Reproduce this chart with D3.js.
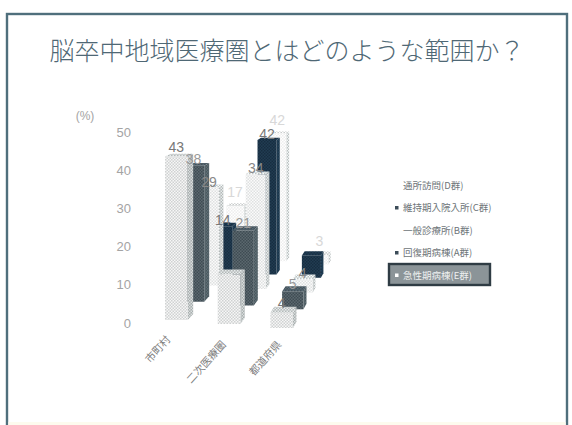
<!DOCTYPE html>
<html lang="ja">
<head>
<meta charset="utf-8">
<script src="https://cdn.jsdelivr.net/npm/d3@7"></script>
<style>
html,body{margin:0;padding:0;background:#fff}
svg{display:block;font-family:"Noto Sans CJK JP","Noto Sans",sans-serif}
</style>
</head>
<body>
<svg id="chart" width="572" height="425"></svg>
<script>
const titleText = "脳卒中地域医療圏とはどのような範囲か？";
const categories = ["市町村", "二次医療圏", "都道府県"];
const tickValues = [0, 10, 20, 30, 40, 50];

// Rows run from the front of the floor to the back.
const rowKeys = ["E", "A", "B", "C", "D"];
const valuesE = [43, 13, 4];
const valuesA = [38, 21, 5];
const valuesB = [29, 34, 4];
const valuesC = [14, 42, 7];
const valuesD = [17, 42, 3];

// Value labels that stay readable; the rest sit behind nearer bars.
const labelsE = [43, null, 4];
const labelsA = [38, 21, 5];
const labelsB = [29, 34, 4];
const labelsC = [14, 42, null];
const labelsD = [17, 42, 3];

const legendNames = ["通所訪問(D群)", "維持期入院入所(C群)", "一般診療所(B群)", "回復期病棟(A群)", "急性期病棟(E群)"];
const legendBullet = [false, true, false, true, true];

const rowValues = [valuesE, valuesA, valuesB, valuesC, valuesD];
const rowLabels = [labelsE, labelsA, labelsB, labelsC, labelsD];
const rowTheme = {
  E: {base: "#f7f7f7", dot: "#cfd2d2", side: "#a9aeae", top: "#b4b8b8", ink: "#777", lift: 5},
  A: {base: "#5b686e", dot: "#3f4c53", side: "#4a575d", top: "#44525a", ink: "#999", lift: 2},
  B: {base: "#fbfbfb", dot: "#dfe1e1", side: "#b5b9b9", top: "#c0c4c4", ink: "#888", lift: 1},
  C: {base: "#213c52", dot: "#172d40", side: "#1b3448", top: "#182f42", ink: "#777", lift: 1},
  D: {base: "#ffffff", dot: "#eeeeee", side: "#bcc0c0", top: "#c8cbcb", ink: "#d8d8d8", lift: 9}
};

const svg = d3.select("#chart");
const defs = svg.append("defs");

// Halftone fills for the printed look of the bars.
function halftone(id, base, dot) {
  const p = defs.append("pattern").attr("id", id)
    .attr("width", 3).attr("height", 3).attr("patternUnits", "userSpaceOnUse");
  p.append("rect").attr("width", 3).attr("height", 3).attr("fill", base);
  p.append("rect").attr("x", 0).attr("y", 0).attr("width", 1.5).attr("height", 1.5).attr("fill", dot);
  p.append("rect").attr("x", 1.5).attr("y", 1.5).attr("width", 1.5).attr("height", 1.5).attr("fill", dot);
}
rowKeys.forEach(k => {
  const t = rowTheme[k];
  halftone("front" + k, t.base, t.dot);
  halftone("side" + k, t.side, d3.color(t.side).brighter(0.7));
  halftone("top" + k, t.top, d3.color(t.top).brighter(0.7));
});

// Slide frame and the pale strip along its lower edge.
svg.append("rect").attr("width", 572).attr("height", 425).attr("fill", "#fff");
svg.append("rect").attr("x", 7).attr("y", 14).attr("width", 560).attr("height", 420)
  .attr("fill", "#fff").attr("stroke", "#4f6f7c").attr("stroke-width", 2.4);
svg.append("rect").attr("x", 8.5).attr("y", 422).attr("width", 557).attr("height", 3).attr("fill", "#fdfbee");

svg.append("text").attr("x", 287).attr("y", 60).attr("text-anchor", "middle")
  .attr("font-size", 25).attr("font-weight", 300).attr("fill", "#4f6875").text(titleText);

// World scales on the floor of the chart, at the front plane.
const xBand = d3.scaleBand().domain(categories).range([165, 293]).paddingInner(0.57).paddingOuter(0).align(0);
const floorY = d3.scalePoint().domain(categories).range([320, 328]);
const depth = d3.scalePoint().domain(rowKeys).range([0, 1]);
const height = d3.scaleLinear().domain([0, 50]).range([0, 190]);
const barDepth = 0.08;

// Perspective projection toward the vanishing point.
const vanish = {x: 470, y: 10};
const shrink = z => 1 / (1 + 0.25 * z);
const project = (x, y, z) => {
  const s = shrink(z);
  return [vanish.x + (x - vanish.x) * s, vanish.y + (y - vanish.y) * s];
};
const poly = pts => "M" + pts.map(p => p.join(",")).join("L") + "Z";

const plot = svg.append("g");
const labelLayer = svg.append("g");

// Paint rows from back to front so nearer bars cover farther ones.
d3.range(rowKeys.length - 1, -1, -1).forEach(r => {
  const key = rowKeys[r];
  const z0 = depth(key), z1 = z0 + barDepth;
  const row = plot.append("g").attr("class", "row-" + key);
  categories.forEach((cat, c) => {
    const x0 = xBand(cat), x1 = x0 + xBand.bandwidth();
    const yb = floorY(cat), yt = yb - height(rowValues[r][c]);
    const bar = row.append("g");
    bar.append("path").attr("fill", `url(#side${key})`)
      .attr("d", poly([project(x1, yb, z0), project(x1, yt, z0), project(x1, yt, z1), project(x1, yb, z1)]));
    bar.append("path").attr("fill", `url(#top${key})`)
      .attr("d", poly([project(x0, yt, z0), project(x1, yt, z0), project(x1, yt, z1), project(x0, yt, z1)]));
    bar.append("path").attr("fill", `url(#front${key})`)
      .attr("d", poly([project(x0, yt, z0), project(x1, yt, z0), project(x1, yb, z0), project(x0, yb, z0)]));
    const label = rowLabels[r][c];
    if (label !== null) {
      const at = project((x0 + x1) / 2, yt, z0);
      labelLayer.append("text").attr("x", at[0]).attr("y", at[1] - rowTheme[key].lift).attr("text-anchor", "middle")
        .attr("font-size", 14).attr("font-family", "Liberation Sans, sans-serif")
        .attr("fill", rowTheme[key].ink).text(label);
    }
  });
});

// Value axis labels.
const yTicks = d3.scaleLinear().domain([0, 50]).range([323, 132]);
svg.append("g").selectAll("text").data(tickValues).join("text")
  .attr("x", 131).attr("y", d => yTicks(d) + 4.5).attr("text-anchor", "end")
  .attr("font-size", 13).attr("font-family", "Liberation Sans, sans-serif")
  .attr("fill", "#a4a4a4").text(d => d);
svg.append("text").attr("x", 85).attr("y", 120).attr("text-anchor", "middle")
  .attr("font-size", 12).attr("font-family", "Liberation Sans, sans-serif")
  .attr("fill", "#a4a4a4").text("(%)");

// Slanted category labels under each column group.
const catAnchor = d3.scalePoint().domain(categories).range([171, 282]);
svg.append("g").selectAll("text").data(categories).join("text")
  .attr("text-anchor", "end").attr("font-size", 10.5).attr("fill", "#7d7d7d")
  .attr("transform", d => `translate(${catAnchor(d)},${d === categories[0] ? 340 : 345}) rotate(-48)`)
  .text(d => d);

// Legend, with the front row picked out in a dark box.
const legendY = d3.scalePoint().domain(legendNames).range([185, 275]);
const last = legendNames[legendNames.length - 1];
svg.append("rect").attr("x", 389).attr("y", 264).attr("width", 101).attr("height", 21)
  .attr("fill", "#8b9498").attr("stroke", "#2f3c44").attr("stroke-width", 2.4);
const legend = svg.append("g").selectAll("g").data(legendNames).join("g");
legend.append("text").attr("x", 403).attr("y", d => legendY(d) + 3.5)
  .attr("font-size", 9.5).attr("fill", d => d === last ? "#eef0f0" : "#6d7478").text(d => d);
legend.filter((d, i) => legendBullet[i]).append("rect")
  .attr("x", 395).attr("y", d => legendY(d) - 1.5).attr("width", 3.5).attr("height", 3.5)
  .attr("fill", d => d === last ? "#fff" : "#3c4c58");
</script>
</body>
</html>
